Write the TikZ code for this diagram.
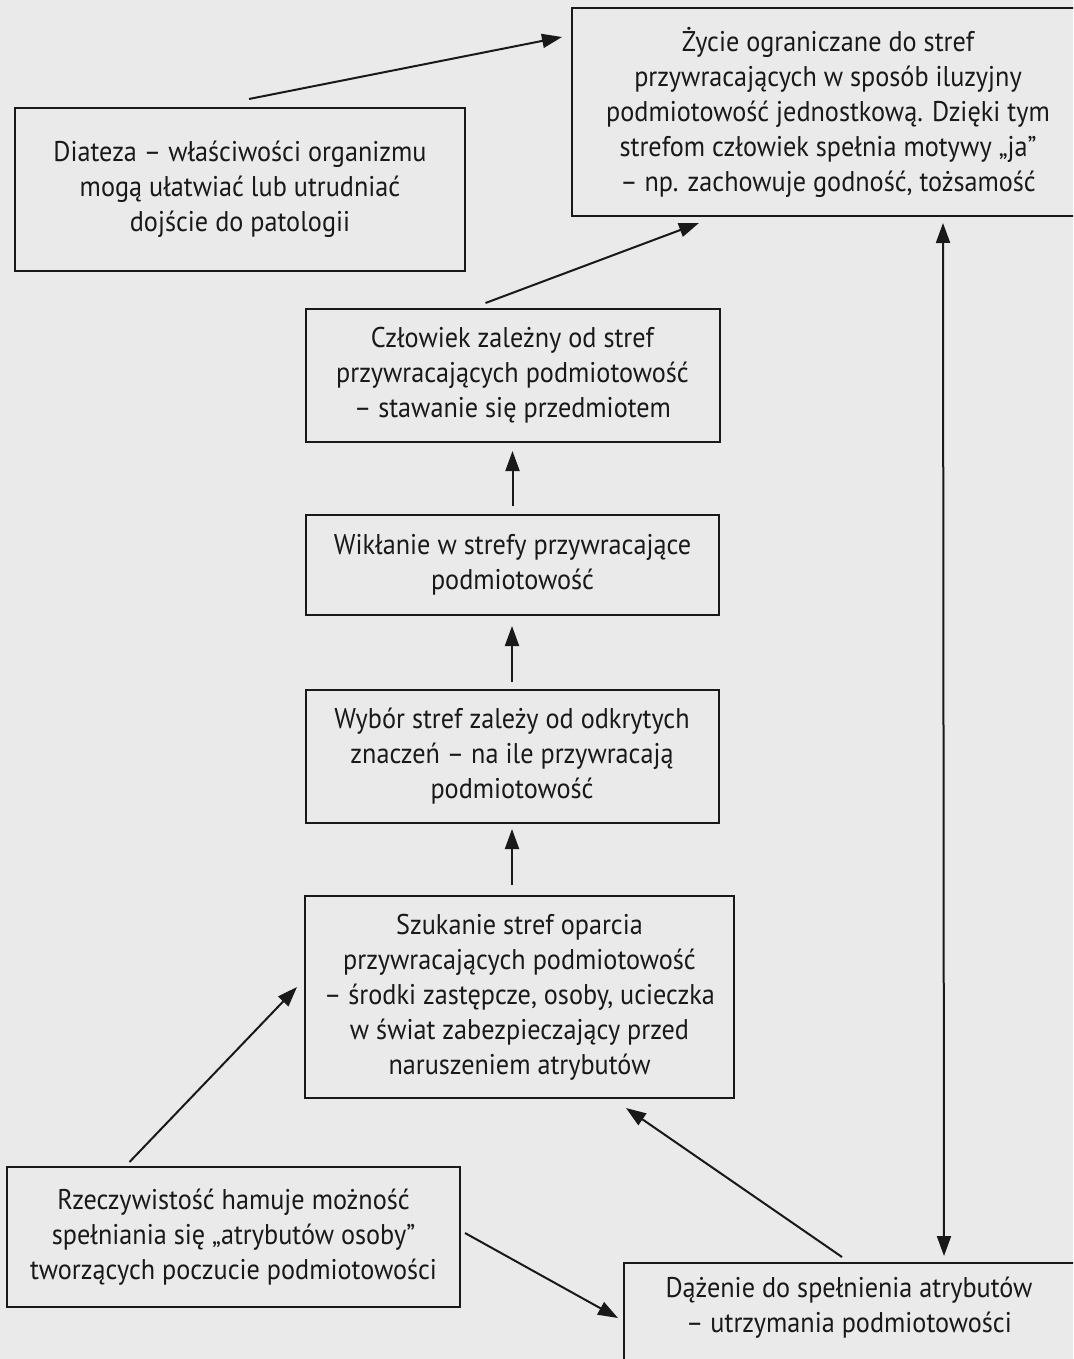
\documentclass[tikz,border=0pt]{standalone}
\usepackage{fontspec}
\setmainfont{PT Sans}[FakeStretch=0.92]
\usetikzlibrary{arrows.meta,calc}
\definecolor{paper}{RGB}{234,234,234}
\definecolor{ink}{RGB}{25,25,25}
\tikzset{
  box/.style={draw=ink, line width=2pt, inner sep=0pt, align=center,
    text=ink, font=\fontsize{28.5}{35}\selectfont},
  txt/.style={inner sep=0pt, align=center, text=ink,
    font=\fontsize{28.5}{35}\selectfont},
  arr/.style={draw=ink, line width=2pt,
    -{Triangle[length=20pt,width=14pt]}},
  darr/.style={draw=ink, line width=2pt,
    {Triangle[length=20pt,width=14pt]}-{Triangle[length=20pt,width=14pt]}}
}
\begin{document}
\begin{tikzpicture}[x=1pt,y=-1pt]
\useasboundingbox (0,0) rectangle (1073,1359);
\clip (0,0) rectangle (1073,1359);
\fill[paper] (0,0) rectangle (1073,1359);

\node[box, minimum width=450pt, minimum height=163pt] (A) at (240,189.5)
  {Diateza – właściwości organizmu\\mogą ułatwiać lub utrudniać\\dojście do patologii};
\node[box, minimum width=512pt, minimum height=208pt] (B) at (828,112)
  {Życie ograniczane do stref\\przywracających w sposób iluzyjny\\podmiotowość jednostkową. Dzięki tym\\strefom człowiek spełnia motywy „ja”\\– np. zachowuje godność, tożsamość};
\node[box, minimum width=414pt, minimum height=133pt] (C) at (512.5,375.5)
  {Człowiek zależny od stref\\przywracających podmiotowość\\– stawanie się przedmiotem};
\node[box, minimum width=413pt, minimum height=100pt] (D) at (512.5,565)
  {Wikłanie w strefy przywracające\\podmiotowość};
\node[box, minimum width=413pt, minimum height=133pt] (E) at (512,756.5)
  {Wybór stref zależy od odkrytych\\znaczeń – na ile przywracają\\podmiotowość};
\node[box, minimum width=429pt, minimum height=202pt] (F) at (519.5,997)
  {Szukanie stref oparcia\\przywracających podmiotowość\\– środki zastępcze, osoby, ucieczka\\w świat zabezpieczający przed\\naruszeniem atrybutów};
\node[box, minimum width=453pt, minimum height=140pt] (G) at (233.5,1237)
  {Rzeczywistość hamuje możność\\spełniania się „atrybutów osoby”\\tworzących poczucie podmiotowości};
\node[box, minimum width=452pt, minimum height=130pt, anchor=north west] (H) at (623,1262) {};
\node[txt] (Ht) at (849,1308)
  {Dążenie do spełnienia atrybutów\\– utrzymania podmiotowości};

\draw[arr] ([shift={(9,-8)}]A.north) -- ([shift={(-9,30)}]B.north west);
\draw[arr] ([shift={(-27,-5)}]C.north) -- ([shift={(128,6)}]B.south west);
\draw[arr] ($(D.north)+(0,-8)$) -- ($(D.north |- C.south)+(0,8)$);
\draw[arr] ($(E.north)+(0,-7)$) -- ($(E.north |- D.south)+(0,10)$);
\draw[arr] ($(E.south |- F.north)+(0,-10)$) -- ($(E.south)+(0,5)$);
\draw[arr] ([shift={(-104,-4)}]G.north) -- ([shift={(-7,-10)}]F.west);
\draw[arr] ([shift={(4,-4)}]G.east) -- ([shift={(-5,56)}]H.north west);
\draw[arr] ([shift={(219,-5)}]H.north west) -- ([shift={(-109,9)}]F.south east);
\draw[darr] ([shift={(372,6)}]B.south west) -- ([shift={(321,-6)}]H.north west);
\end{tikzpicture}
\end{document}
